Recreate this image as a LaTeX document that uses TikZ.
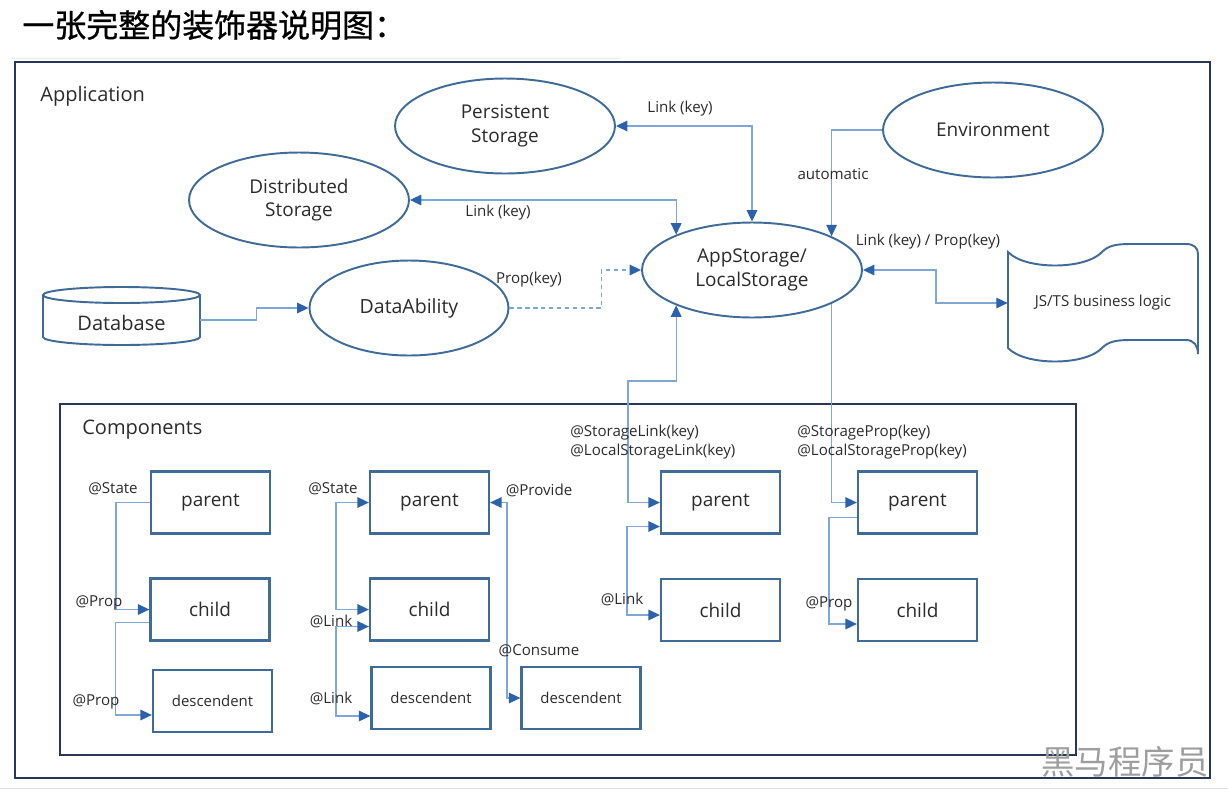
\documentclass[tikz,border=0pt]{standalone}
\usepackage{fontspec}
\setmainfont{Open Sans}
\newfontfamily\cjkfont{Noto Sans CJK SC}
\newfontfamily\cjkbold[FakeBold=0.8]{Noto Sans CJK SC}
\usetikzlibrary{shapes.geometric,arrows.meta,calc}

\definecolor{framenavy}{HTML}{2A3656}
\definecolor{shapeblue}{HTML}{3F6B98}
\definecolor{lineblue}{HTML}{7EA7D8}
\definecolor{tipblue}{HTML}{2B62AB}
\definecolor{textgray}{HTML}{2B2B2B}

\tikzset{
  store/.style={ellipse,draw=shapeblue,line width=1.1pt,fill=white,minimum width=4.4cm,minimum height=1.9cm,inner sep=0pt,align=center,text=textgray,font=\fontsize{10.8}{13.4}\selectfont},
  comp/.style={rectangle,draw=shapeblue,line width=1.3pt,minimum width=2.38cm,minimum height=1.24cm,text=textgray,font=\fontsize{10.8}{13}\selectfont},
  small/.style={inner sep=0pt,text=textgray,font=\fontsize{8.6}{10.8}\selectfont},
  conn/.style={draw=lineblue,line width=0.75pt},
  dashconn/.style={conn,dash pattern=on 2.5pt off 2pt},
  frame/.style={draw=framenavy,line width=1.3pt},
  >={Triangle[length=6.5pt,width=6pt,color=tipblue]}
}

\begin{document}
\begin{tikzpicture}[x=0.02cm,y=-0.02cm]
\useasboundingbox (0,0) rectangle (1228,792);
%\draw[step=50,gray,very thin] (0,0) grid (1228,792);
\draw[black!8] (12,58) -- (620,58);
\draw[black!12] (0,788) -- (1228,788);
\node[anchor=west,inner sep=0pt,font=\cjkbold\fontsize{18.2}{20}\selectfont] (title) at (22,25) {一张完整的装饰器说明图：};

% frames
\draw[frame] (15,62) rectangle (1210,778);
\draw[frame] (60,404) rectangle (1076,755);
\node[anchor=west,inner sep=0pt,text=textgray,font=\fontsize{11.4}{13}\selectfont] (applbl) at (40,96) {Application};
\node[anchor=west,inner sep=0pt,text=textgray,font=\fontsize{11.4}{13}\selectfont] (complbl) at (82,430) {Components};

% storages
\node[store] (ps) at (505,126) {Persistent\\Storage};
\node[store] (ds) at (299,200) {Distributed\\Storage};
\node[store] (env) at (993,130) {Environment};
\node[store] (app) at (752,270) {AppStorage/\\LocalStorage};
\node[store,minimum width=3.98cm,font=\fontsize{11.1}{13}\selectfont] (da) at (409,308) {DataAbility};

% database
\draw[draw=shapeblue,line width=1.1pt,fill=white] (43,295) -- (43,337) arc[start angle=180,end angle=0,x radius=78.5,y radius=8] -- (200,295);
\draw[draw=shapeblue,line width=1.1pt,fill=white] (121.5,295) ellipse[x radius=78.5,y radius=8];
\node[minimum width=3.14cm,inner sep=0pt,text=textgray,font=\fontsize{11.4}{13}\selectfont] (db) at (121.5,323) {Database};

% business logic
\draw[draw=shapeblue,line width=1.1pt] (1008,252) .. controls (1025,270) and (1085,270) .. (1102,252)
  .. controls (1108,246) and (1115,244) .. (1130,244) -- (1186,244) .. controls (1194,244) and (1198,248) .. (1198,254)
  -- (1198,354) .. controls (1198,346) and (1194,340) .. (1186,340) -- (1130,340)
  .. controls (1115,340) and (1108,342) .. (1102,348) .. controls (1085,366) and (1025,366) .. (1008,348) -- cycle;
\node[minimum width=3.8cm,inner sep=0pt,text=textgray,font=\fontsize{8.6}{10}\selectfont] (js) at (1103,303) {JS/TS business logic};

% components
\node[comp] (p1) at (210.5,502.5) {parent};
\node[comp] (c1) at (210,609.5) {child};
\node[comp,font=\fontsize{8.5}{10}\selectfont] (d1) at (212.5,701) {descendent};
\node[comp] (p2) at (429.5,502.5) {parent};
\node[comp] (c2) at (429.5,609.5) {child};
\node[comp,font=\fontsize{8.5}{10}\selectfont] (d2) at (431,698) {descendent};
\node[comp,font=\fontsize{8.5}{10}\selectfont] (d3) at (581,698) {descendent};
\node[comp] (p3) at (720.5,502.5) {parent};
\node[comp] (c3) at (720.5,610) {child};
\node[comp] (p4) at (917.5,502.5) {parent};
\node[comp] (c4) at (917.5,610) {child};

% connectors
\draw[conn,<->] (ps.east) -| (app.north);
\draw[conn,<->] (ds.east) -| (app.155);
\draw[conn,->] (env.west) -| (app.23);
\draw[conn,<->] (app.east) -- ++(73,0) |- (js.west);
\draw[dashconn,->] (da.east) -- ++(92,0) |- (app.west);
\draw[conn,->] ($(db.east)+(0,-3)$) -- ++(56,0) |- (da.west);

\draw[conn,->] (p1.west) -- ++(-34,0) |- (c1.west);
\draw[conn,->] ($(c1.west)+(0,13)$) -- ++(-34,0) |- ($(d1.west)+(0,14)$);
\draw[conn,<->] (p2.west) -- ++(-33,0) |- (c2.west);
\draw[conn,<->] ($(c2.west)+(0,17)$) -- ++(-33,0) |- ($(d2.west)+(0,18)$);
\draw[conn,<->] (p2.east) -- ++(17,0) |- (d3.west);
\coordinate (bend3) at (628,381);
\draw[conn,<->] (app.205) |- (bend3) |- (p3.west);
\draw[conn,<->] ($(p3.west)+(0,24)$) -- ++(-33,0) |- ($(c3.west)+(0,5)$);
\draw[conn,->] (app.337) |- (p4.west);
\draw[conn,->] ($(p4.west)+(0,15)$) -- ++(-28,0) |- ($(c4.west)+(0,14)$);

% labels
\node[small] (lk1) at (680,109) {Link (key)};
\node[small] (lk2) at (498,213) {Link (key)};
\node[small] (pk1) at (529,280) {Prop(key)};
\node[small] (auto) at (833,174) {automatic};
\node[small] (lkpk) at (928,242) {Link (key) / Prop(key)};
\node[small,anchor=west,align=left] (slk) at (570,442) {@StorageLink(key)\\@LocalStorageLink(key)};
\node[small,anchor=west,align=left] (spk) at (797,442) {@StorageProp(key)\\@LocalStorageProp(key)};
\node[small] (st1) at (113,489) {@State};
\node[small] (pr1) at (99,603) {@Prop};
\node[small] (pr2) at (96,702) {@Prop};
\node[small] (st2) at (333,489) {@State};
\node[small] (ln1) at (331,621) {@Link};
\node[small] (ln2) at (331,698) {@Link};
\node[small] (prov) at (539,490) {@Provide};
\node[small] (cons) at (539,651) {@Consume};
\node[small] (ln3) at (622,599) {@Link};
\node[small] (pr3) at (829,604) {@Prop};

\node[text=black!38,font=\cjkfont\fontsize{19}{20}\selectfont] (mark) at (1125,762) {黑马程序员};
\end{tikzpicture}
\end{document}
